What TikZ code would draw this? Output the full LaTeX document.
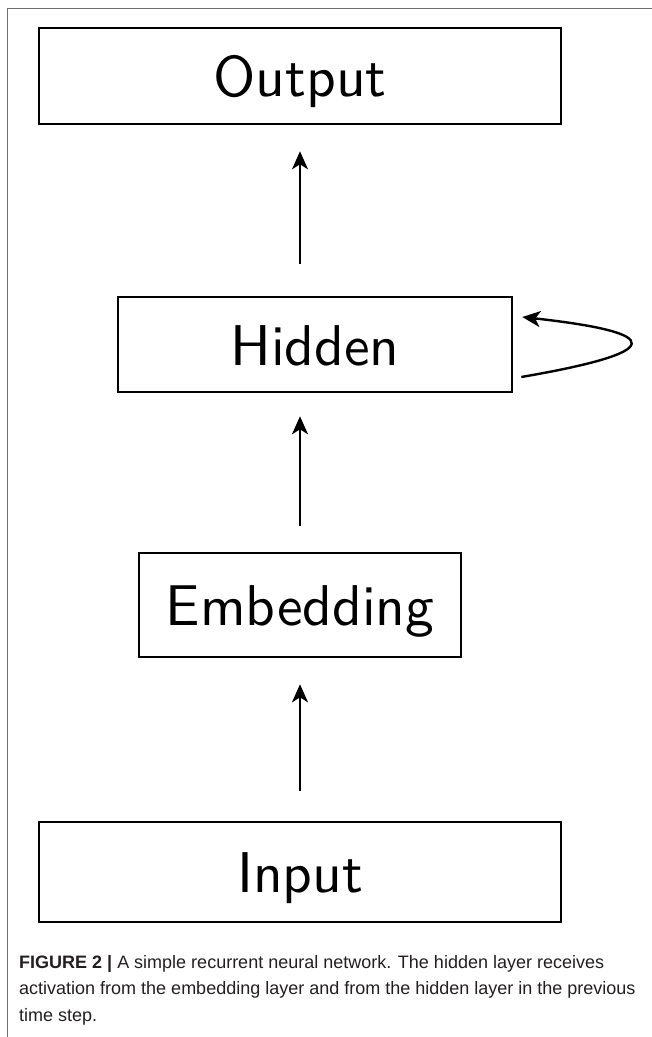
\documentclass[tikz,border=0pt]{standalone}
\usepackage{fontspec}
\setmainfont{Liberation Sans}
\newfontfamily\layerfont{lmsans10-regular.otf}
\usetikzlibrary{arrows.meta}
\definecolor{frameGray}{RGB}{110,110,110}
\definecolor{capInk}{RGB}{35,31,32}

\tikzset{
  layer/.style={draw=black,line width=2.6pt,inner sep=0pt,text height=41pt,text depth=0pt,
    font=\layerfont\fontsize{57.5}{60}\selectfont},
  flow/.style={line width=2.4pt,-{Stealth[length=18pt,width=16pt,inset=5pt]}},
}

\begin{document}
\begin{tikzpicture}[x=1pt,y=1pt]
\path[use as bounding box] (0,0) rectangle (652,-1037);
% frame of the figure panel
\draw[frameGray,line width=1.4pt] (652,-8.5) -- (7.5,-8.5) -- (7.5,-1037);

% the four layers
\node[layer,minimum width=522pt,minimum height=96pt] (output) at (300,-76) {Output};
\node[layer,minimum width=394pt,minimum height=95pt] (hidden) at (315,-344.5) {Hidden};
\node[layer,minimum width=322pt,minimum height=104pt] (embed) at (300,-605) {Embedding};
\node[layer,minimum width=522pt,minimum height=100pt] (input) at (300,-872) {Input};

% feed-forward arrows
\draw[flow,shorten <=30pt,shorten >=26pt] (input) -- (embed);
\draw[flow,shorten <=26pt,shorten >=23pt] (embed) -- (embed |- hidden.south);
\draw[flow,shorten <=32pt,shorten >=26pt] (hidden.north -| output) -- (output);

% recurrent loop on the hidden layer
\draw[flow] ([xshift=8pt,yshift=-32.5pt]hidden.east) .. controls +(145,25) and +(144,-16) .. ([xshift=9pt,yshift=27.5pt]hidden.east);

\node[anchor=north west,align=left,text=capInk,inner sep=0pt,font=\fontsize{18}{26.5}\selectfont] (caption) at (19,-955) {\textbf{FIGURE 2 |} A simple recurrent neural network. The hidden layer receives\\
activation from the embedding layer and from the hidden layer in the previous\\
time step.};
\end{tikzpicture}
\end{document}
